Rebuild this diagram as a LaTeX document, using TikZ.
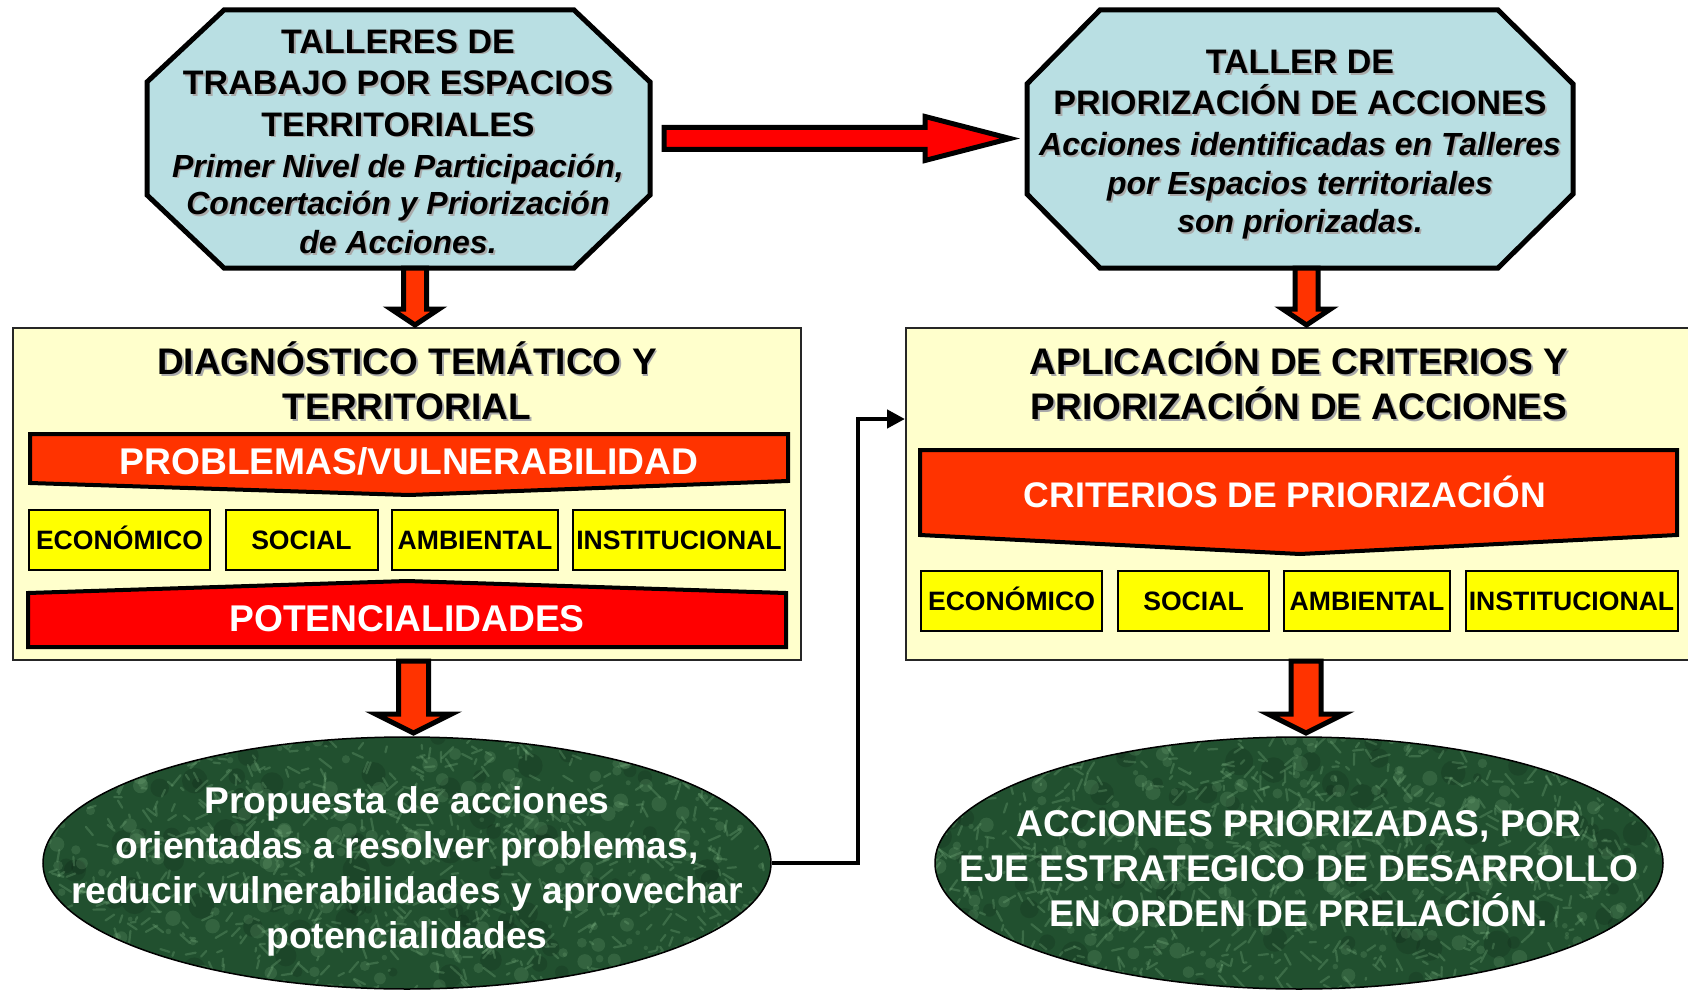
\documentclass[tikz,border=0pt]{standalone}
\usepackage{fontspec}
\setmainfont{Liberation Sans}
\usetikzlibrary{calc,shapes.geometric,arrows.meta}
\definecolor{octfill}{RGB}{185,223,227}
\definecolor{cream}{RGB}{255,255,204}
\definecolor{orred}{RGB}{255,51,0}
\definecolor{purered}{RGB}{255,0,0}
\definecolor{yel}{RGB}{255,255,0}
\definecolor{dgreen}{RGB}{33,80,47}
\definecolor{lgreen}{RGB}{135,190,140}
\definecolor{shadowgray}{RGB}{170,170,170}
\newcommand\shd[1]{\leavevmode\rlap{\kern0.9pt\raisebox{-0.9pt}{\textcolor{shadowgray}{#1}}}#1}
\newcommand\octit[1]{{\fontsize{16}{19}\selectfont\itshape\shd{#1}}}
% down block arrow: #1 top coord, #2 tip coord, #3 half shaft, #4 half head, #5 head length, #6 fill
\newcommand\blockdown[6]{\draw[blockarrow,fill=#6] ($(#1)+(-#3,0)$) -- ($(#1)+(#3,0)$) -- ($(#2)+(#3,-#5)$) -- ($(#2)+(#4,-#5)$) -- (#2) -- ($(#2)+(-#4,-#5)$) -- ($(#2)+(-#3,-#5)$) -- cycle;}
\newcommand\blockright[6]{\draw[blockarrow,fill=#6] ($(#1)+(0,-#3)$) -- ($(#2)+(-#5,-#3)$) -- ($(#2)+(-#5,-#4)$) -- (#2) -- ($(#2)+(-#5,#4)$) -- ($(#2)+(-#5,#3)$) -- ($(#1)+(0,#3)$) -- cycle;}
\begin{document}
\begin{tikzpicture}[x=0.5pt,y=-0.5pt,line join=miter,
  oct/.style={draw=black,line width=2.5pt,fill=octfill},
  octtext/.style={align=center,inner sep=0pt,font=\fontsize{17}{20.75}\selectfont\bfseries},
  ybox/.style={draw=black!85,line width=1pt,fill=cream,inner sep=0pt,minimum height=166pt},
  ytitle/.style={align=center,inner sep=0pt,font=\fontsize{18.5}{22.5}\selectfont\bfseries},
  banner/.style={draw=black,line width=2pt},
  bantext/.style={inner sep=0pt,text=white,font=\fontsize{18.6}{22}\selectfont\bfseries},
  catbox/.style={draw=black,line width=1pt,fill=yel,inner sep=0pt,minimum height=30pt,text height=9.6pt,text depth=0pt,font=\fontsize{13.3}{15}\selectfont\bfseries},
  blockarrow/.style={draw=black,line width=2.5pt,line join=miter},
  conn/.style={draw=black,line width=2.2pt,-{Triangle[length=9pt,width=9pt]}},
  elltext/.style={align=center,inner sep=0pt,text=white,font=\fontsize{18.6}{22.5}\selectfont\bfseries},
  greenell/.style={ellipse,draw=black,line width=0.75pt,fill=dgreen,inner sep=0pt,minimum width=364pt,minimum height=126pt,
    path picture={
      \pgfmathsetseed{#1}
      \foreach \i in {1,...,90}{
        \pgfmathsetmacro\px{rnd*740-370}
        \pgfmathsetmacro\py{rnd*260-130}
        \pgfmathsetmacro\rr{4+rnd*10}
        \fill[black,opacity=0.12] ($(path picture bounding box.center)+(\px,\py)$) circle (\rr);
      }
      \foreach \i in {1,...,260}{
        \pgfmathsetmacro\px{rnd*740-370}
        \pgfmathsetmacro\py{rnd*260-130}
        \pgfmathsetmacro\rr{2+rnd*6}
        \fill[lgreen,opacity=0.18] ($(path picture bounding box.center)+(\px,\py)$) circle (\rr);
      }
      \foreach \i in {1,...,900}{
        \pgfmathsetmacro\px{rnd*740-370}
        \pgfmathsetmacro\py{rnd*260-130}
        \pgfmathsetmacro\dx{rand*12}
        \pgfmathsetmacro\dy{rand*12}
        \draw[lgreen,opacity=0.26,line width=1.1pt,line cap=round] ($(path picture bounding box.center)+(\px,\py)$) -- ++(\dx,\dy);
      }
    }},
  greenell/.default=3]
\useasboundingbox (0,0) rectangle (1688,990);

% ---- top octagons ----
\draw[oct] (224,10) -- (574,10) -- (650,82) -- (650,195) -- (574,268) -- (224,268) -- (147,195) -- (147,82) -- cycle;
\node[octtext] (o1) at (398,142.5) {\shd{TALLERES DE}\\\shd{TRABAJO POR ESPACIOS}\\\shd{TERRITORIALES}\\[-0.25pt]\octit{Primer Nivel de Participación,}\\[-2pt]\octit{Concertación y Priorización}\\[-1.2pt]\octit{de Acciones.}};

\draw[oct] (1100,10) -- (1498,10) -- (1573,84) -- (1573,194) -- (1498,268) -- (1100,268) -- (1027,194) -- (1027,84) -- cycle;
\node[octtext] (o2) at (1300,145.5) {\shd{TALLER DE}\\\shd{PRIORIZACIÓN DE ACCIONES}\\[-0.25pt]\octit{Acciones identificadas en Talleres}\\[-1.5pt]\octit{por Espacios territoriales}\\[-1.5pt]\octit{son priorizadas.}};

% ---- yellow containers ----
\node[ybox,minimum width=394pt] (y1) at (407,494) {};
\node[ybox,minimum width=397pt] (y2) at (1303,494) {};
\node[ytitle] (y1t) at (407,382) {\shd{DIAGNÓSTICO TEMÁTICO Y}\\\shd{TERRITORIAL}};
\node[ytitle] (y2t) at (1299,382) {\shd{APLICACIÓN DE CRITERIOS Y}\\\shd{PRIORIZACIÓN DE ACCIONES}};

% ---- banners ----
\draw[banner,fill=orred] (30,434) -- (788,434) -- (788,481) -- (409,495) -- (30,483) -- cycle;
\node[bantext,anchor=base] (b1) at (409,474) {PROBLEMAS/VULNERABILIDAD};
\draw[banner,fill=purered] (28,593) -- (407,581) -- (786,593) -- (786,647) -- (28,647) -- cycle;
\node[bantext,anchor=base] (b2) at (407,631) {POTENCIALIDADES};
\draw[banner,fill=orred] (920,450) -- (1677,450) -- (1677,535) -- (1300,554) -- (920,535) -- cycle;
\node[bantext,anchor=base,font=\fontsize{17.8}{22}\selectfont\bfseries] (b3) at (1285,507) {CRITERIOS DE PRIORIZACIÓN};

% ---- category boxes ----
\node[catbox,minimum width=90.5pt] (l1) at (119.5,540) {ECONÓMICO};
\node[catbox,minimum width=76pt] (l2) at (301.5,540) {SOCIAL};
\node[catbox,minimum width=83pt] (l3) at (475,540) {AMBIENTAL};
\node[catbox,minimum width=106pt] (l4) at (679,540) {INSTITUCIONAL};
\node[catbox,minimum width=90.5pt] (r1) at (1011.5,600.5) {ECONÓMICO};
\node[catbox,minimum width=75.5pt] (r2) at (1193.5,600.5) {SOCIAL};
\node[catbox,minimum width=83pt] (r3) at (1367,600.5) {AMBIENTAL};
\node[catbox,minimum width=106pt] (r4) at (1571.5,600.5) {INSTITUCIONAL};

% ---- ellipses ----
\node[greenell=5] (e1) at (407,863) {};
\node[greenell=11] (e2) at (1299,863) {};
\node[elltext] (e1t) at (407,871) {Propuesta de acciones\\orientadas a resolver problemas,\\reducir vulnerabilidades y aprovechar\\potencialidades};
\node[elltext] (e2t) at (1299,868.5) {ACCIONES PRIORIZADAS, POR\\EJE ESTRATEGICO DE DESARROLLO\\EN ORDEN DE PRELACIÓN.};

% ---- block arrows ----
\coordinate (h1s) at (664,138.5);
\coordinate (h1e) at (1010,138.5);
\blockright{h1s}{h1e}{11}{22}{85}{purered}
\coordinate (d1s) at (415,268);
\coordinate (d1e) at (415,325);
\blockdown{d1s}{d1e}{11.5}{24}{16}{orred}
\coordinate (d2s) at (1306.5,268);
\coordinate (d2e) at (1306.5,325);
\blockdown{d2s}{d2e}{11.5}{24}{16}{orred}
\coordinate (d3s) at (413.5,661);
\coordinate (d3e) at (413.5,733);
\blockdown{d3s}{d3e}{15}{38}{19}{orred}
\coordinate (d4s) at (1306,661);
\coordinate (d4e) at (1306,733);
\blockdown{d4s}{d4e}{15}{38}{19}{orred}

% ---- connector ----
\coordinate (bend) at (858,419);
\draw[conn] (e1.east) -| (bend) -- (bend -| y2.west);
\end{tikzpicture}
\end{document}
